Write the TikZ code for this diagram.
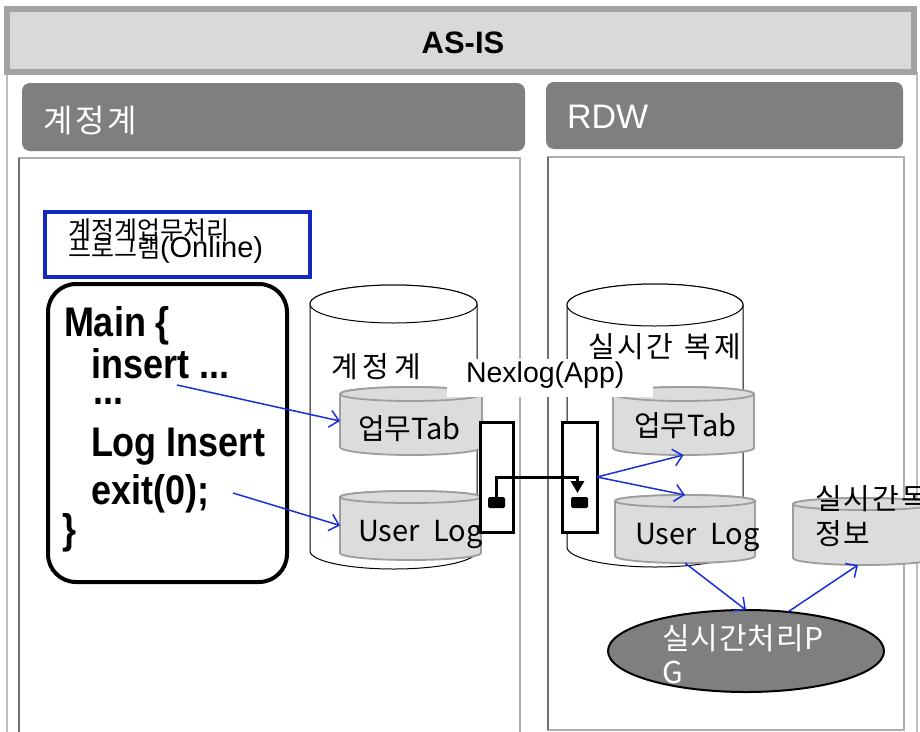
\documentclass[tikz,border=0pt]{standalone}
\usepackage{fontspec}
\setmainfont{Liberation Sans}
\newfontfamily\kr{Noto Sans CJK KR}
\usetikzlibrary{arrows.meta,shapes.geometric}

\definecolor{hdrfill}{HTML}{D9D9D9}
\definecolor{hdrline}{HTML}{A3A3A3}
\definecolor{tabgray}{HTML}{7F7F7F}
\definecolor{frameline}{HTML}{BDBDBD}
\definecolor{boxdark}{HTML}{707070}
\definecolor{boxlight}{HTML}{B0B0B0}
\definecolor{dbfill}{HTML}{DCDCDC}
\definecolor{dbline}{HTML}{9E9E9E}
\definecolor{flowblue}{HTML}{1830D8}
\definecolor{progblue}{HTML}{1428C0}

\newcommand\fs[1]{\fontsize{#1}{#1}\selectfont}
\newcommand\tallcode[1]{\scalebox{1}[1.15]{#1}}

% drum (database cylinder): style, left x, right x, top-centre y, bottom-centre y, top ry, bottom ry
\newcommand\drum[7]{%
  \path[#1] (#2,#4) -- (#2,#5)
     arc[start angle=180,end angle=0,x radius={(#3-#2)/2},y radius=#7]
     -- (#3,#4)
     arc[start angle=0,end angle=-180,x radius={(#3-#2)/2},y radius=#6] -- cycle;
  \path[#1] ({(#2+#3)/2},#4) ellipse[x radius={(#3-#2)/2},y radius=#6];
}

\tikzset{
  every node/.style={inner sep=0pt, outer sep=0pt},
  bigdb/.style={draw=black, fill=white, line width=1},
  db/.style={draw=dbline, fill=dbfill, line width=1.8},
  codeline/.style={font=\bfseries\fs{36}, anchor=base west},
  krlabel/.style={font=\kr\fs{29}, anchor=base west},
  flow/.style={draw=flowblue, line width=1.5, -{Straight Barb[length=9pt,width=17pt]}},
  relay/.style={draw, line width=3, fill=white},
  relaydot/.style={fill=black, rounded corners=1.5, minimum width=17, minimum height=11}
}

\begin{document}
\begin{tikzpicture}[x=1pt,y=-1pt]
\useasboundingbox (0,0) rectangle (920,731);
\clip (0,0) rectangle (920,731);
\fill[white] (0,0) rectangle (920,731);

% outer frame and title bar
\draw[frameline, line width=1.5] (7,72) -- (7,740);
\draw[frameline, line width=1.5] (917,72) -- (917,740);
\draw[hdrline, fill=hdrfill, line width=6] (6.5,8.5) rectangle (913.5,71.5);
\node[font=\bfseries\fs{31}, anchor=base] (asis) at (463,53) {AS-IS};

% panel headers
\fill[tabgray, rounded corners=8] (22,83) rectangle (525,151);
\node[font=\kr\fs{32}, text=white, anchor=base west] (hdrL) at (43,132) {계\kern3pt 정\kern3pt 계};
\fill[tabgray, rounded corners=8] (546,82) rectangle (903,149);
\node[font=\fs{34}, text=white, anchor=base west] (hdrR) at (567,128) {RDW};

% panel bodies
\draw[boxlight, line width=1.3] (19,158) rectangle (520,745);
\draw[boxdark, line width=1.3] (19,745) -- (19,158);
\draw[boxlight, line width=1.3] (548,157) rectangle (904,730);
\draw[boxdark, line width=1.3] (548,730) -- (548,157);

% online program caption
\draw[progblue, line width=4] (45,212) rectangle (310,277);
\node[font=\kr\fs{25}, anchor=base west] (prog1) at (68,239) {계정계업무처리};
\node[font=\kr\fs{25}, anchor=base west] (prog2) at (68,257) {프로그램{\rmfamily\fs{29}(Online)}};

% program source
\draw[line width=4, rounded corners=28] (48,284) rectangle (287,582);
\node[codeline] (c1) at (64,336) {\tallcode{Main \{}};
\node[codeline] (c2) at (91,378) {\tallcode{insert ...}};
\node[codeline] (c3) at (93,404) {\tallcode{...}};
\node[codeline] (c4) at (91,456) {\tallcode{Log Insert}};
\node[codeline] (c5) at (91,504) {\tallcode{exit(0);}};
\node[codeline] (c6) at (62,543) {\tallcode{\}}};

% databases
\drum{bigdb}{310}{477}{304}{551}{19}{18}
\drum{bigdb}{567}{743}{305}{547}{21}{20}
\drum{db}{340}{482}{394}{447}{7}{8}
\drum{db}{340}{481}{497}{553}{6}{7}
\drum{db}{613}{754}{394}{448}{7}{7}
\drum{db}{615}{755}{501}{556}{6}{7}
\drum{db}{793}{935}{504}{558}{6}{7}
\node[minimum width=142, minimum height=68] (tabL) at (411,421) {};
\node[minimum width=141, minimum height=69] (logL) at (410.5,525.5) {};
\node[minimum width=141, minimum height=68] (tabR) at (683.5,421) {};
\node[minimum width=140, minimum height=68] (logR) at (685,529) {};
\node[minimum width=142, minimum height=67] (info) at (864,531.5) {};

% replication channel
\node[fill=white, minimum width=206, minimum height=38] (nexbg) at (550,378) {};
\node[font=\fs{28.5}, anchor=base west] (nexlog) at (466,382) {Nexlog(App)};
\node[relay, minimum width=33, minimum height=110] (boxL) at (496.5,477) {};
\node[relay, minimum width=35, minimum height=110] (boxR) at (579.5,477) {};
\node[relaydot] (dotL) at (496.5,502.5) {};
\node[relaydot] (dotR) at (579.5,502.5) {};
\draw[line width=3, -{Triangle[length=12pt,width=13pt]}]
  (dotL.north) -- ++(0,-20) -| ([xshift=-2pt,yshift=4pt]dotR.north);

% labels
\node[font=\kr\fs{29}, anchor=base west] (dbL) at (331,377) {계\kern5pt 정\kern5pt 계};
\node[font=\kr\fs{29}, anchor=base west] (dbR) at (588,357) {실\kern3pt 시\kern2pt 간 \kern5pt 복\kern3pt 제};
\node[krlabel] (tabLt) at (358,439) {업무Tab};
\node[krlabel] (logLt) at (358,541) {User\kern7pt{} Log};
\node[krlabel] (tabRt) at (634,436) {업무Tab};
\node[krlabel] (logRt) at (635,544) {User\kern7pt{} Log};
\node[font=\kr\fs{29}, anchor=base west] (info1) at (815,509) {실\kern2pt 시\kern2pt 간\kern2pt 목\kern2pt 록};
\node[font=\kr\fs{29}, anchor=base west] (info2) at (815,544) {정\kern2pt 보};

% real-time processing program
\node[ellipse, draw, line width=2, fill=tabgray, minimum width=276, minimum height=82] (rtpg) at (746,651) {};
\node[font=\kr\fs{30}, text=white, anchor=base west] (rtpg1) at (662,649) {실\kern1pt 시\kern1pt 간\kern1pt 처\kern1pt 리P};
\node[font=\kr\fs{30}, text=white, anchor=base west] (rtpg2) at (662,683) {G};

% data flow
\coordinate (insOut) at (177,385);
\coordinate (exitOut) at (233,493);
\draw[flow] (insOut) -- (tabL.west);
\draw[flow] (exitOut) -- (logL.west);
\draw[flow] (boxR.east) -- (tabR.south);
\draw[flow] (boxR.east) -- (logR.north);
\draw[flow] (logR.south) -- (rtpg.north);
\draw[flow] (rtpg.43) -- ([xshift=-6pt]info.south);
\end{tikzpicture}
\end{document}
